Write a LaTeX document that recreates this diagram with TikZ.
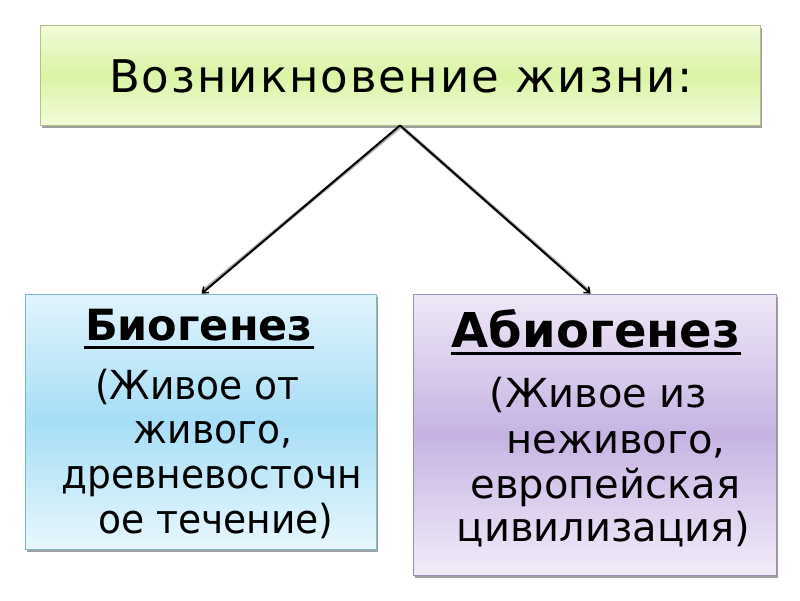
\documentclass[tikz,border=0pt]{standalone}
\usepackage{fontspec}
\setmainfont{DejaVu Sans}
\newfontfamily\titlefont[LetterSpace=4.5]{DejaVu Sans}
\newfontfamily\headfont{DejaVu Sans Bold}
\newfontfamily\bodyfontl[FakeStretch=0.94]{DejaVu Sans}
\usetikzlibrary{shadows,calc,arrows.meta}
\definecolor{gtop}{HTML}{F2FBD8}
\definecolor{gmid}{HTML}{DBF4A6}
\definecolor{gline}{HTML}{B3C088}
\definecolor{btop}{HTML}{E1F4FC}
\definecolor{bmid}{HTML}{A6DEF6}
\definecolor{bbot}{HTML}{E8F7FD}
\definecolor{bline}{HTML}{7DB9C6}
\definecolor{ptop}{HTML}{EFE8F7}
\definecolor{pmid}{HTML}{C6B3E3}
\definecolor{pbot}{HTML}{F2ECF9}
\definecolor{pline}{HTML}{9C8EB2}
\tikzset{
  box/.style={draw, line width=0.8pt, rectangle, inner sep=0pt,
    drop shadow={shadow xshift=2pt, shadow yshift=-3pt, fill=gray!75, opacity=1}},
  bodyl/.style={anchor=base, inner sep=0pt, font=\bodyfontl\fontsize{40}{45}\selectfont},
  bodyr/.style={anchor=base, inner sep=0pt, font=\fontsize{40}{45}\selectfont},
  headtext/.style={anchor=base, inner sep=0pt},
  uline/.style={line width=3pt, black},
  connshadow/.style={line width=3.5pt, gray!60},
  conn/.style={-{Straight Barb[length=5pt,width=8pt,line width=1.5pt]}, line width=2pt, black}
}
\begin{document}
\begin{tikzpicture}[x=1pt,y=-1pt]
\useasboundingbox (0,0) rectangle (800,600);
\fill[white] (0,0) rectangle (800,600);
% boxes
\node[box, draw=gline, top color=gtop, bottom color=gtop, middle color=gmid,
  minimum width=720pt, minimum height=100pt] (top) at (400,75) {};
\node[box, draw=bline, top color=btop, bottom color=bbot, middle color=bmid,
  minimum width=351pt, minimum height=255pt] (bio) at (200.5,421.5) {};
\node[box, draw=pline, top color=ptop, bottom color=pbot, middle color=pmid,
  minimum width=363pt, minimum height=281pt] (abio) at (594.5,434.5) {};
% title
\node[headtext, font=\titlefont\fontsize{45}{50}\selectfont] (toptext) at (401,92) {Возникновение жизни:};
% left box text
\node[headtext, font=\headfont\fontsize{43}{48}\selectfont] (biohead) at (199,340) {Биогенез};
\draw[uline] ($(biohead.base west)+(-1,7.5)$) -- ($(biohead.base east)+(1,7.5)$);
\node[bodyl] (bl1) at (197.5,399) {(Живое от};
\node[bodyl] (bl2) at (213,443) {живого,};
\node[bodyl] (bl3) at (212,488) {древневосточн};
\node[bodyl] (bl4) at (216,533) {ое течение)};
% right box text
\node[headtext, font=\headfont\fontsize{48}{52}\selectfont] (abiohead) at (596,347) {Абиогенез};
\draw[uline] ($(abiohead.base west)+(-1,6.5)$) -- ($(abiohead.base east)+(1,6.5)$);
\node[bodyr] (br1) at (598.5,407) {(Живое из};
\node[bodyr] (br2) at (616,453) {неживого,};
\node[bodyr] (br3) at (605.5,498) {европейская};
\node[bodyr] (br4) at (603.5,541) {цивилизация)};
% connectors
\coordinate (endl) at ($(bio.north west)+(177,0)$);
\coordinate (endr) at ($(abio.north west)+(178,0)$);
\draw[connshadow] ($(top.south)+(0.8,0.8)$) -- ($(endl)+(0.8,-2)$);
\draw[connshadow] ($(top.south)+(0.8,0.8)$) -- ($(endr)+(-1.2,-2)$);
\draw[conn] (top.south) -- (endl);
\draw[conn] (top.south) -- (endr);
\end{tikzpicture}
\end{document}
